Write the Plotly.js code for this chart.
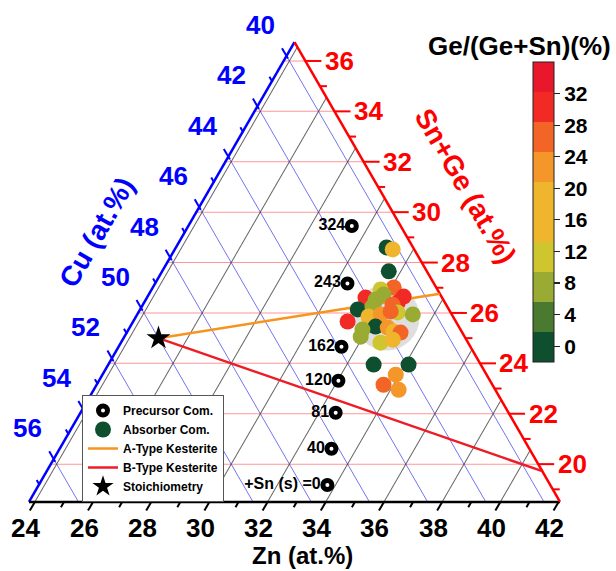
<!DOCTYPE html>
<html><head><meta charset="utf-8">
<script src="https://cdn.plot.ly/plotly-3.0.1.min.js"></script>
<style>html,body{margin:0;padding:0;background:#fff}</style>
</head><body><div id="chart" style="width:616px;height:571px"></div>
<script>
// ---- ternary window (Sn+Ge on top, Cu bottom-left, Zn bottom-right) ----
const SNGE_MIN = 18.5, CU_MIN = 39.45, ZN_MIN = 23.8;

// ---- tick values ----
const cuTicks = [40, 42, 44, 46, 48, 50, 52, 54, 56];
const sngeTicks = [20, 22, 24, 26, 28, 30, 32, 34, 36];
const znTicks = [24, 26, 28, 30, 32, 34, 36, 38, 40, 42];

// ---- precursor compositions (at.%) ----
const precLabels = ['324', '243', '162', '120', '81', '40', '+Sn (s) =0'];
const precSnGe = [29.45, 27.17, 24.66, 23.31, 22.04, 20.61, 19.17];
const precZn   = [29.42, 30.41, 31.46, 32.03, 32.57, 33.14, 33.72];
const precCu   = [41.13, 42.42, 43.88, 44.66, 45.39, 46.25, 47.11];

// ---- absorber compositions (at.%) and Ge/(Ge+Sn) (%) ----
const absSnGe = [28.60, 28.52, 27.65, 27.01, 26.93, 26.73, 26.61, 26.65, 26.53, 26.14, 26.41, 26.25, 26.33, 25.66, 25.86, 25.94,
                 26.02, 25.94, 26.06, 25.46, 25.34, 25.06, 25.42, 25.26, 25.22, 24.82, 24.94, 23.95, 23.95, 23.55, 23.15, 22.95];
const absZn   = [31.04, 31.29, 31.59, 32.08, 31.67, 31.87, 31.31, 32.60, 31.70, 31.28, 32.52, 31.73, 32.38, 31.17, 31.79, 32.17,
                 32.71, 33.27, 32.45, 32.23, 31.84, 31.92, 32.67, 32.95, 33.21, 32.72, 33.08, 32.92, 34.12, 33.88, 33.66, 34.28];
const absCu   = [40.36, 40.19, 40.76, 40.91, 41.40, 41.40, 42.08, 40.75, 41.77, 42.58, 41.07, 42.02, 41.29, 43.17, 42.35, 41.89,
                 41.27, 40.79, 41.49, 42.31, 42.82, 43.02, 41.91, 41.79, 41.57, 42.46, 41.98, 43.13, 41.93, 42.57, 43.19, 42.77];
const absGe   = [0, 18, 0, 26, 11, 8, 30, 30, 8, 0, 30, 8, 26, 30, 18, 22,
                 11, 8, 26, 0, 8, 8, 22, 18, 26, 11, 18, 0, 0, 22, 26, 22];

// cluster highlight (grey disc)
const clusterSnGe = [25.82], clusterZn = [32.43], clusterCu = [41.75];

// ---- kesterite lines & stoichiometry ----
const aTypeSnGe = [25, 26.76], aTypeZn = [25, 33.79], aTypeCu = [50, 39.45];
const bTypeSnGe = [25, 19.72], bTypeZn = [25, 40.83], bTypeCu = [50, 39.45];
const stoSnGe = [25], stoZn = [25], stoCu = [50];

// ---- colour bar ----
const cbColors = ['#0d4f2f', '#4a7a2f', '#9aab33', '#cfc52f', '#efb52d', '#efb52d', '#f5962a', '#f26526', '#f22a26', '#e8172b'];
const cbTicks = [0, 4, 8, 12, 16, 20, 24, 28, 32];
const CB_MIN = -2, CB_MAX = 36;

// ---------------------------------------------------------------
const FONT = 'Liberation Sans, Arial, sans-serif';
const W = 616, H = 571;
const dom = {x: [29 / W, 560 / W], y: [69 / H, 529 / H]};
const span = 100 - SNGE_MIN - CU_MIN - ZN_MIN;
// plotly fits an equilateral triangle inside the domain, centred
let triW = (dom.x[1] - dom.x[0]) * W, triH = (dom.y[1] - dom.y[0]) * H;
if (triW > triH * 2 / Math.sqrt(3)) triW = triH * 2 / Math.sqrt(3); else triH = triW * Math.sqrt(3) / 2;
const X0 = (dom.x[0] + dom.x[1]) / 2 * W - triW / 2;      // bottom-left corner (px)
const Y0 = H - ((dom.y[0] + dom.y[1]) / 2 * H - triH / 2); // bottom edge (px from top)
const K = triH / span, WU = triW / span;

// ternary (a = Sn+Ge, c = Zn) -> paper coords, with optional pixel offset
function toPaper(a, c, dx, dy) {
  const px = X0 + (c - ZN_MIN) * WU + (a - SNGE_MIN) * WU / 2 + (dx || 0);
  const py = Y0 - (a - SNGE_MIN) * K + (dy || 0);
  return [px / W, 1 - py / H];
}

const colorscale = [];
cbColors.forEach((col, i) => { colorscale.push([i / cbColors.length, col]); colorscale.push([(i + 1) / cbColors.length, col]); });

const traces = [];
traces.push({type: 'scatterternary', mode: 'markers', a: clusterSnGe, b: clusterCu, c: clusterZn,
  marker: {size: 66, color: 'rgba(200,200,200,0.6)', line: {width: 0}}, showlegend: false, hoverinfo: 'skip'});
traces.push({type: 'scatterternary', mode: 'lines', name: 'A-Type Kesterite', a: aTypeSnGe, b: aTypeCu, c: aTypeZn,
  line: {color: '#f7941d', width: 2.5}, legendrank: 3});
traces.push({type: 'scatterternary', mode: 'lines', name: 'B-Type Kesterite', a: bTypeSnGe, b: bTypeCu, c: bTypeZn,
  line: {color: '#ee1c25', width: 2.5}, legendrank: 4});
traces.push({type: 'scatterternary', mode: 'markers+text', name: 'Precursor Com.', a: precSnGe, b: precCu, c: precZn,
  text: precLabels, textposition: 'middle left', cliponaxis: false,
  textfont: {family: FONT, size: 16, color: 'black', weight: 'bold'},
  marker: {symbol: 'circle', size: 9, color: 'white', line: {color: 'black', width: 5}}, legendrank: 1});
traces.push({type: 'scatterternary', mode: 'markers', name: 'Absorber Com.', a: absSnGe, b: absCu, c: absZn,
  marker: {size: 16, color: absGe, colorscale: colorscale, cmin: CB_MIN, cmax: CB_MAX, line: {width: 0},
    colorbar: {x: 533 / W, xanchor: 'left', xpad: 0, ypad: 0, y: 1 - 212 / H, yanchor: 'middle',
      len: 300, lenmode: 'pixels', thickness: 21, outlinewidth: 1, outlinecolor: '#222',
      tickvals: cbTicks, ticks: 'outside', ticklen: 6, tickwidth: 1.2, tickcolor: '#222',
      tickfont: {family: FONT, size: 21, color: 'black', weight: 'bold'}}},
  legendrank: 2});
traces.push({type: 'scatterternary', mode: 'markers', name: 'Stoichiometry', a: stoSnGe, b: stoCu, c: stoZn,
  marker: {symbol: 'star', size: 18, color: 'black'}, legendrank: 5});

// ---- axis ticks (shapes) and tick labels (annotations), positioned from the ternary geometry ----
const shapes = [], annotations = [];
const S3 = Math.sqrt(3) / 2;
function tick(a, c, ux, uy, inLen, outLen, color) {
  const p0 = toPaper(a, c, -ux * inLen, -uy * inLen), p1 = toPaper(a, c, ux * outLen, uy * outLen);
  shapes.push({type: 'line', xref: 'paper', yref: 'paper', x0: p0[0], y0: p0[1], x1: p1[0], y1: p1[1],
    line: {color: color, width: 2}, layer: 'above'});
}
function label(a, c, dx, dy, txt, color) {
  const p = toPaper(a, c, dx, dy);
  annotations.push({xref: 'paper', yref: 'paper', x: p[0], y: p[1], xanchor: 'center', yanchor: 'middle', showarrow: false,
    text: txt, font: {family: FONT, size: 26, color: color, weight: 'bold'}});
}
const BLUE = '#0000ff', RED = '#ff0000';
// Cu on the left edge (Zn = ZN_MIN); ticks along constant-Cu direction (up-left)
for (let v = 40; v <= 57; v++) { const major = v % 2 === 0; tick(100 - ZN_MIN - v, ZN_MIN, -0.5, -S3, major ? 3 : 1, major ? 9 : 5, BLUE); }
cuTicks.forEach(v => label(100 - ZN_MIN - v, ZN_MIN, -26, -31, String(v), BLUE));
// Sn+Ge on the right edge (Cu = CU_MIN); horizontal ticks
for (let v = 19; v <= 36; v++) { const major = v % 2 === 0; const c = 100 - CU_MIN - v; tick(v, c, 1, 0, 0, major ? 16 : 7, RED); }
sngeTicks.forEach(v => label(v, 100 - CU_MIN - v, 34, 0, String(v), RED));
// Zn on the bottom edge (Sn+Ge = SNGE_MIN); ticks along constant-Zn direction (down-left)
for (let v = 24; v <= 42; v++) { const major = v % 2 === 0; tick(SNGE_MIN, v, -0.5, S3, 0, major ? 10 : 6, 'black'); }
znTicks.forEach(v => label(SNGE_MIN, v, -9, 26, String(v), 'black'));

function title(px, py, txt, color, size, angle) {
  annotations.push({xref: 'paper', yref: 'paper', x: px / W, y: 1 - py / H, xanchor: 'center', yanchor: 'middle',
    showarrow: false, text: txt, textangle: angle || 0, font: {family: FONT, size: size, color: color, weight: 'bold'}});
}
title(97, 233, 'Cu (at.%)', BLUE, 28, -60);
title(466, 186, 'Sn+Ge (at.%)', RED, 28, 60);
title(302, 555, 'Zn (at.%)', 'black', 24, 0);
title(519, 46, 'Ge/(Ge+Sn)(%)', 'black', 26, 0);

const axisCommon = {dtick: 2, tick0: 0, showgrid: true, gridwidth: 1, showline: true, ticks: '', showticklabels: false,
  title: {text: ''}, layer: 'below traces'};

const layout = {
  width: W, height: H,
  margin: {l: 0, r: 0, t: 0, b: 0},
  paper_bgcolor: 'white',
  font: {family: FONT, color: 'black'},
  ternary: {
    sum: 100, domain: dom, bgcolor: 'white',
    aaxis: Object.assign({}, axisCommon, {min: SNGE_MIN, gridcolor: 'rgba(255,80,80,0.6)', linecolor: BLUE, linewidth: 2.5}),
    baxis: Object.assign({}, axisCommon, {min: CU_MIN, gridcolor: 'rgba(70,70,235,0.75)', linecolor: 'black', linewidth: 2.5}),
    caxis: Object.assign({}, axisCommon, {min: ZN_MIN, gridcolor: 'rgba(50,50,50,0.75)', linecolor: RED, linewidth: 2.5})
  },
  showlegend: true,
  legend: {x: 82 / W, y: 1 - 502 / H, xanchor: 'left', yanchor: 'bottom', bgcolor: 'white', bordercolor: '#555', borderwidth: 1,
    font: {family: FONT, size: 12, color: 'black', weight: 'bold'}, tracegroupgap: 0, itemwidth: 30},
  shapes: shapes,
  annotations: annotations
};

Plotly.newPlot('chart', traces, layout, {displayModeBar: false, staticPlot: true});
</script>
</body></html>
